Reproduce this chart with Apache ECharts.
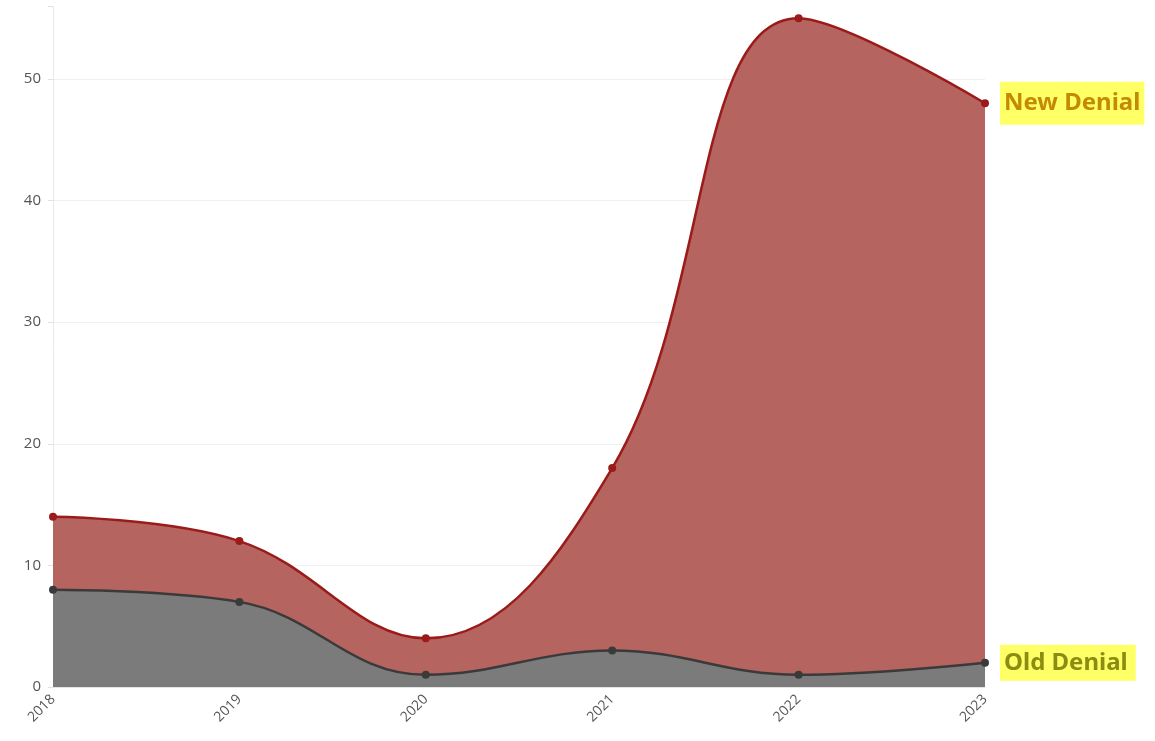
<!DOCTYPE html>
<html>
<head>
<meta charset="utf-8">
<script src="https://cdn.jsdelivr.net/npm/echarts@6/dist/echarts.min.js"></script>
<style>
html,body{margin:0;padding:0;background:#fff;}
#chart{width:1155px;height:741px;}
</style>
</head>
<body>
<div id="chart"></div>
<script>
const years = ['2018', '2019', '2020', '2021', '2022', '2023'];
const newDenial = [14, 12, 4, 18, 55, 48];
const oldDenial = [8, 7, 1, 3, 1, 2];
const yTicks = [0, 10, 20, 30, 40, 50];

const chart = echarts.init(document.getElementById('chart'));
chart.setOption({
  animation: false,
  backgroundColor: '#ffffff',
  grid: { left: 53, right: 170, top: 6, bottom: 54, containLabel: false },
  xAxis: {
    type: 'category',
    data: years,
    boundaryGap: false,
    axisLine: { show: true, lineStyle: { color: '#e4e4e4', width: 1 } },
    axisTick: { show: false },
    splitLine: { show: true, lineStyle: { color: ['#e8e8e8', 'transparent', 'transparent', 'transparent', 'transparent', 'transparent'] } },
    axisLabel: { rotate: 45, color: '#555', fontSize: 14, fontFamily: 'Open Sans', margin: 10 }
  },
  yAxis: {
    type: 'value',
    min: 0, max: 56, interval: 10,
    axisLine: { show: false },
    axisTick: { show: true, length: 5, lineStyle: { color: '#e0e0e0' } },
    splitLine: { show: true, lineStyle: { color: ['#eeeeee','#f0f0f0','#f0f0f0','#f0f0f0','#f0f0f0','#f0f0f0','transparent'] } },
    axisLabel: {
      color: '#555', fontSize: 15, fontFamily: 'Open Sans', margin: 12,
      formatter: v => yTicks.includes(v) ? String(v) : ''
    }
  },
  series: [
    {
      name: 'New Denial',
      type: 'line',
      data: newDenial,
      smooth: 0.4,
      symbol: 'circle',
      symbolSize: 8,
      itemStyle: { color: '#9b1b1b' },
      lineStyle: { color: '#9b1b1b', width: 2.5 },
      areaStyle: { color: '#b5645f', opacity: 1 },
      endLabel: {
        show: true,
        formatter: 'New Denial',
        distance: 15,
        color: '#c48a05',
        fontSize: 24,
        fontWeight: 'bold',
        fontFamily: 'Noto Sans',
        backgroundColor: '#ffff66',
        padding: [10, 4, 9, 4]
      }
    },
    {
      name: 'Old Denial',
      type: 'line',
      data: oldDenial,
      smooth: 0.4,
      symbol: 'circle',
      symbolSize: 8,
      itemStyle: { color: '#3a3a3a' },
      lineStyle: { color: '#3a3a3a', width: 2.5 },
      areaStyle: { color: '#7b7b7b', opacity: 1 },
      endLabel: {
        show: true,
        formatter: 'Old Denial',
        distance: 15,
        color: '#8c8c12',
        fontSize: 24,
        fontWeight: 'bold',
        fontFamily: 'Noto Sans',
        backgroundColor: '#ffff66',
        padding: [6, 8, 6, 4]
      }
    }
  ]
});
</script>
</body>
</html>
